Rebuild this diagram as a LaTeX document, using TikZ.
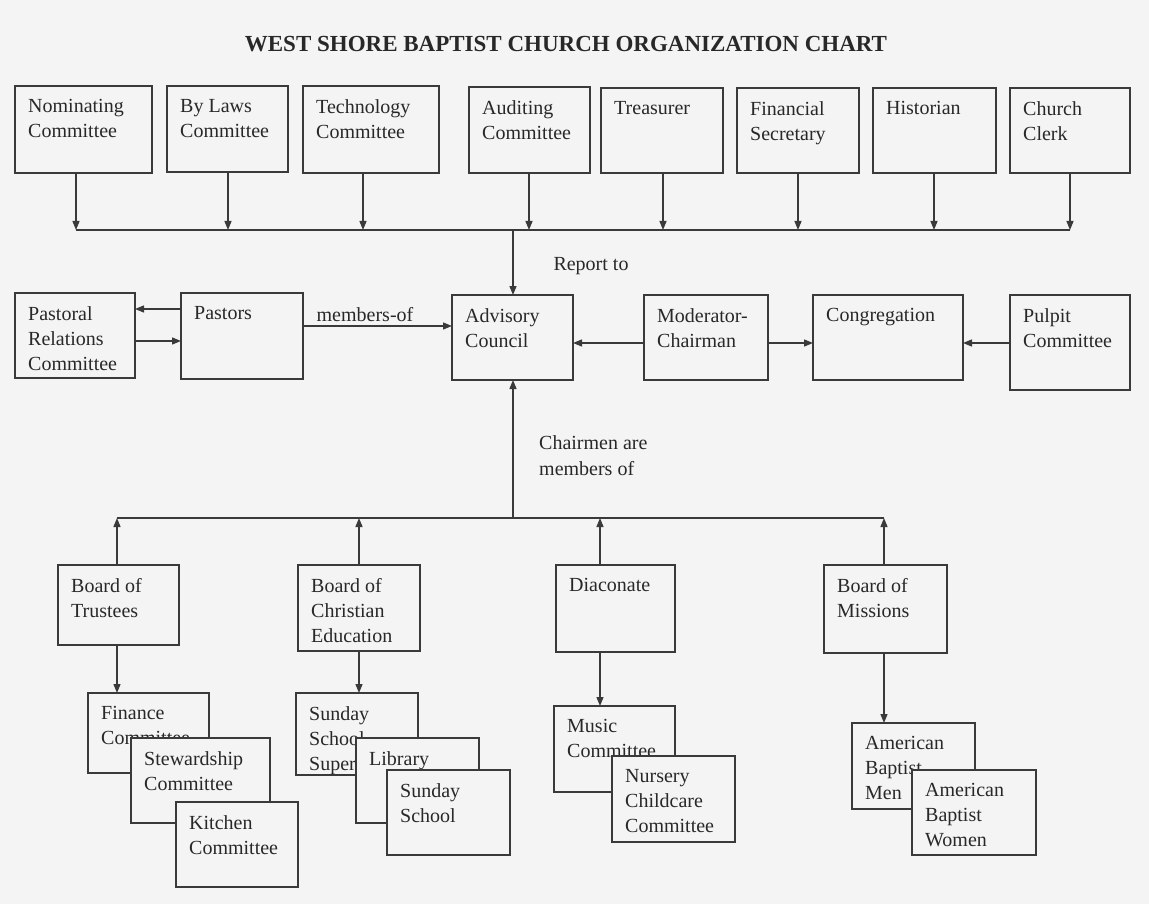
\documentclass[tikz,border=0pt]{standalone}
\usepackage{fontspec}
\setmainfont{Liberation Serif}
\usetikzlibrary{arrows.meta,calc}
\definecolor{bg}{RGB}{244,244,244}
\definecolor{ink}{RGB}{58,58,58}
\definecolor{txtc}{RGB}{40,40,40}
\tikzset{
 box/.style={draw=ink, fill=bg, line width=1.5pt, rectangle, inner sep=0pt, outer sep=0pt, anchor=north west},
 lbl/.style={text=txtc, font=\fontsize{20}{25}\selectfont, align=left, inner sep=0pt, anchor=north west},
 note/.style={text=txtc, font=\fontsize{20}{26}\selectfont, align=left, inner sep=0pt},
 wire/.style={draw=ink, line width=1.3pt},
 arr/.style={wire, -{Triangle[length=9pt,width=7pt]}},
}
\newcommand\orgbox[6]{%
 \node[box, minimum width={#4-#2}, minimum height={#5-#3}] (#1) at (#2,#3) {};
 \node[lbl] (#1t) at ([xshift=13pt,yshift=-13pt]#1.north west) {#6};
}
\begin{document}
\begin{tikzpicture}[x=1pt,y=-1pt]
\fill[bg] (0,0) rectangle (1149,904);
\useasboundingbox (0,0) rectangle (1149,904);
\node[text=txtc, font=\bfseries\fontsize{23}{28}\selectfont, anchor=base, inner sep=0pt] (title) at (566,52) {WEST SHORE BAPTIST CHURCH ORGANIZATION CHART};

% top row
\orgbox{nom}{15}{86}{152}{173}{Nominating\\Committee}
\orgbox{byl}{167}{86}{288}{172}{By Laws\\Committee}
\orgbox{tec}{303}{86}{439}{173}{Technology\\Committee}
\orgbox{aud}{469}{87}{590}{173}{Auditing\\Committee}
\orgbox{tre}{601}{88}{723}{173}{Treasurer}
\orgbox{fsec}{737}{88}{859}{173}{Financial\\Secretary}
\orgbox{his}{873}{88}{996}{173}{Historian}
\orgbox{clk}{1010}{88}{1130}{173}{Church\\Clerk}

% middle row
\orgbox{prc}{15}{293}{135}{378}{Pastoral\\Relations\\Committee}
\orgbox{pas}{181}{293}{303}{379}{Pastors}
\orgbox{adv}{452}{295}{573}{380}{Advisory\\Council}
\orgbox{mod}{644}{295}{768}{380}{Moderator-\\Chairman}
\orgbox{con}{813}{295}{963}{380}{Congregation}
\orgbox{pul}{1010}{295}{1130}{390}{Pulpit\\Committee}

% top bus
\coordinate (t1) at (76,230);
\coordinate (t2) at (228,230);
\coordinate (t3) at (363,230);
\coordinate (t4) at (529,230);
\coordinate (t5) at (663,230);
\coordinate (t6) at (798,230);
\coordinate (t7) at (934,230);
\coordinate (t8) at (1070,230);
\coordinate (tt) at (513,230);
\draw[wire] (t1) -- (t8);
\draw[arr] (nom.south -| t1) -- (t1);
\draw[arr] (byl.south -| t2) -- (t2);
\draw[arr] (tec.south -| t3) -- (t3);
\draw[arr] (aud.south -| t4) -- (t4);
\draw[arr] (tre.south -| t5) -- (t5);
\draw[arr] (fsec.south -| t6) -- (t6);
\draw[arr] (his.south -| t7) -- (t7);
\draw[arr] (clk.south -| t8) -- (t8);
\draw[arr] (tt) -- (adv.north -| tt);
\node[note, anchor=base] (rep) at (591,271) {Report to};

% middle connectors
\coordinate (ya) at (0,309);
\coordinate (yb) at (0,341);
\coordinate (yc) at (0,326);
\coordinate (yd) at (0,343);
\draw[arr] (pas.west |- ya) -- (prc.east |- ya);
\draw[arr] (prc.east |- yb) -- (pas.west |- yb);
\draw[arr] (pas.east |- yc) -- (adv.west |- yc);
\node[note, anchor=base] (mem) at (365,321) {members-of};
\draw[arr] (mod.west |- yd) -- (adv.east |- yd);
\draw[arr] (mod.east |- yd) -- (con.west |- yd);
\draw[arr] (pul.west |- yd) -- (con.east |- yd);

% lower bus
\coordinate (c1) at (117,518);
\coordinate (c2) at (359,518);
\coordinate (c3) at (600,518);
\coordinate (c4) at (884,518);
\coordinate (ct) at (513,518);
\draw[wire] (c1) -- (c4);
\draw[arr] (ct) -- (adv.south -| ct);
\node[note, anchor=north west] (chm) at (539,435) {Chairmen are\\members of};

% boards
\orgbox{bot}{58}{565}{179}{645}{Board of\\Trustees}
\orgbox{bce}{298}{565}{420}{651}{Board of\\Christian\\Education}
\orgbox{dia}{556}{565}{675}{652}{Diaconate}
\orgbox{bom}{824}{565}{947}{653}{Board of\\Missions}
\draw[arr] (bot.north -| c1) -- (c1);
\draw[arr] (bce.north -| c2) -- (c2);
\draw[arr] (dia.north -| c3) -- (c3);
\draw[arr] (bom.north -| c4) -- (c4);

% sub-committees
\orgbox{fcm}{88}{693}{209}{773}{Finance\\Committee}
\orgbox{stw}{131}{738}{270}{823}{Stewardship\\Committee}
\orgbox{kit}{176}{802}{298}{887}{Kitchen\\Committee}
\orgbox{sss}{296}{693}{418}{775}{Sunday\\School\\Super}
\orgbox{lib}{356}{738}{479}{823}{Library}
\orgbox{ssc}{387}{770}{510}{855}{Sunday\\School}
\orgbox{mus}{554}{706}{675}{792}{Music\\Committee}
\orgbox{nur}{612}{756}{735}{842}{Nursery\\Childcare\\Committee}
\orgbox{abm}{852}{723}{975}{809}{American\\Baptist\\Men}
\orgbox{abw}{912}{770}{1036}{855}{American\\Baptist\\Women}
\draw[arr] (bot.south -| c1) -- (fcm.north -| c1);
\draw[arr] (bce.south -| c2) -- (sss.north -| c2);
\draw[arr] (dia.south -| c3) -- (mus.north -| c3);
\draw[arr] (bom.south -| c4) -- (abm.north -| c4);
\end{tikzpicture}
\end{document}
